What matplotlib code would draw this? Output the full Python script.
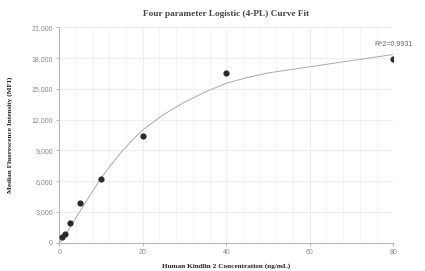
import matplotlib
matplotlib.use("Agg")
from matplotlib import pyplot as plt
from matplotlib.ticker import MultipleLocator, FuncFormatter

# measured standards
conc = [0.625, 1.25, 2.5, 5, 10, 20, 40, 80]
mfi = [520, 880, 1950, 3850, 6210, 10380, 16570, 17870]

# fitted 4-PL curve
fit_x = [0, 0.625, 1.25, 2.5, 5, 7.5, 10, 12.5, 15, 17.5, 20, 25, 30, 35, 40, 45, 50, 60, 70, 80]
fit_y = [0, 250, 600, 1450, 3100, 4700, 6300, 7650, 8900, 10000, 11000, 12500, 13700, 14700,
         15550, 16100, 16550, 17150, 17750, 18350]

r2_text = "R^2=0.9931"

fig = plt.figure(figsize=(4.25, 2.71), dpi=100)
ax = fig.add_axes([0.1395, 0.1044, 0.7859, 0.7949])

ax.plot(fit_x, fit_y, color="#aaaaaa", linewidth=0.7, zorder=2)
ax.scatter(conc, mfi, s=20, color="#2b2b2b", zorder=3, linewidths=0)

ax.annotate(r2_text, (fit_x[-1], fit_y[-1]), xytext=(0, 5), textcoords="offset points",
            ha="center", va="bottom", fontsize=5, color="#666666",
            family="Liberation Sans")

ax.set_xlim(0, 80)
ax.set_ylim(0, 21000)
ax.xaxis.set_major_locator(MultipleLocator(20))
ax.xaxis.set_minor_locator(MultipleLocator(4))
ax.yaxis.set_major_locator(MultipleLocator(3000))
ax.yaxis.set_major_formatter(FuncFormatter(lambda v, p: f"{int(v):,}"))

ax.grid(which="major", color="#e8ebf2", linewidth=0.6)
ax.grid(which="minor", axis="x", color="#f0f2f7", linewidth=0.6)
ax.set_axisbelow(True)

for s in ["top", "right"]:
    ax.spines[s].set_visible(False)
for s in ["left", "bottom"]:
    ax.spines[s].set_color("#b0b0b0")
    ax.spines[s].set_linewidth(0.7)

ax.tick_params(which="major", length=2.5, width=0.6, color="#b0b0b0",
               labelsize=5, labelcolor="#888888", pad=2)
ax.tick_params(which="minor", length=0)
for lab in ax.get_xticklabels() + ax.get_yticklabels():
    lab.set_family("Liberation Sans")

ax.set_title("Four parameter Logistic (4-PL) Curve Fit", fontsize=6.7, fontweight="bold",
             family="Liberation Serif", color="#444444", pad=8)
ax.set_xlabel("Human Kindlin 2 Concentration (ng/mL)", fontsize=5.2, fontweight="bold",
              family="Liberation Serif", color="#222222", labelpad=5)
ax.set_ylabel("Median Fluorescence Intensity (MFI)", fontsize=5.2, fontweight="bold",
              family="Liberation Serif", color="#222222", labelpad=13)

fig.savefig("out.png", dpi=100)
